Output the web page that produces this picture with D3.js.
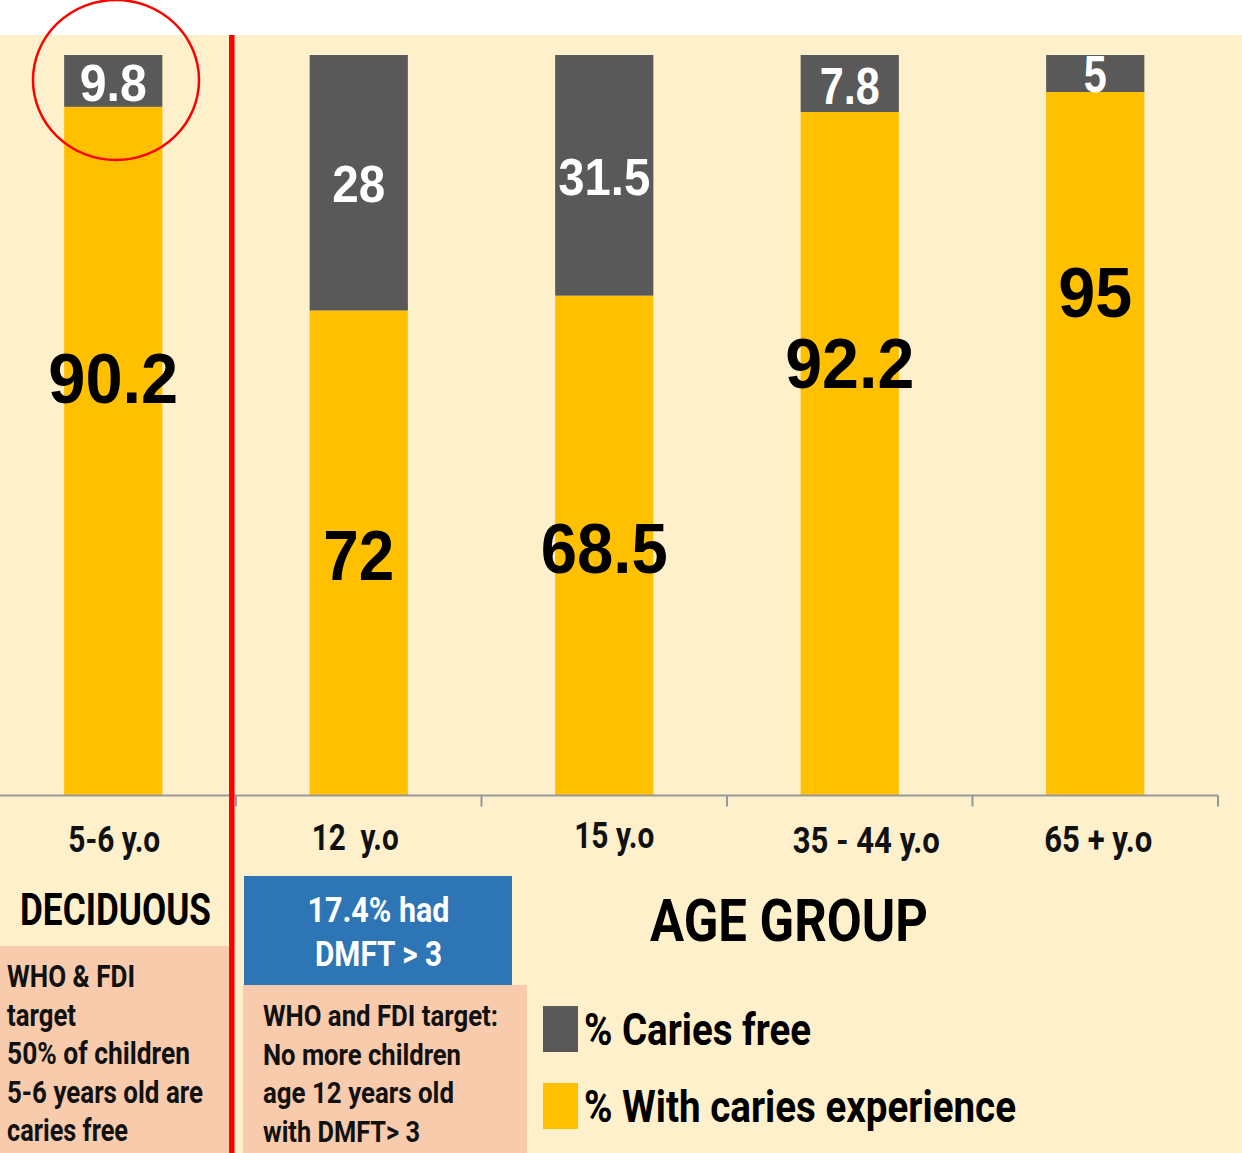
<!DOCTYPE html>
<html>
<head>
<meta charset="utf-8">
<style>
body { margin: 0; background: #fff; }
svg { display: block; }
.narrow { font-family: Roboto, "DejaVu Sans", sans-serif; font-weight: bold; }
.num { font-family: "Liberation Sans", Arial, sans-serif; font-weight: bold; }
</style>
</head>
<body>
<svg width="1242" height="1153"></svg>
<script src="https://d3js.org/d3.v7.min.js"></script>
<script>
// age groups
var groups = ["5-6 y.o", "12  y.o", "15 y.o", "35 - 44 y.o", "65 + y.o"];
// segment heights as drawn in the chart (percent of the 100% stacked bar)
var cariesFree = [7.0, 34.5, 32.5, 7.7, 5.0];
var withCaries = [93.0, 65.5, 67.5, 92.3, 95.0];
// values printed on the bars
var freeLabels = ["9.8", "28", "31.5", "7.8", "5"];
var cariesLabels = ["90.2", "72", "68.5", "92.2", "95"];
// label baselines, in percent units from the bottom
var freeLabelAt = [93.8, 80.2, 81.1, 93.4, 95.0];
var cariesLabelAt = [53.0, 29.1, 30.0, 55.0, 64.6];

var seriesNames = ["% Caries free", "% With caries experience"];
var colors = ["#595959", "#FFC000"];

// widths the texts take in the original (the condensed face is not installed)
var textW = {
  "5-6 y.o": 92, "12  y.o": 87, "15 y.o": 80, "35 - 44 y.o": 147, "65 + y.o": 108,
  "9.8": 67, "28": 53, "31.5": 92, "7.8": 60, "5": 23,
  "90.2": 130, "72": 71, "68.5": 127, "92.2": 129, "95": 74,
  "DECIDUOUS": 191, "WHO & FDI": 128, "target": 69, "50% of children": 183,
  "5-6 years old are": 196, "caries free": 121,
  "WHO and FDI target:": 235, "No more children": 198, "age 12 years old": 191, "with DMFT> 3": 157,
  "17.4% had": 142, "DMFT > 3": 127, "AGE GROUP": 278,
  "% Caries free": 227, "% With caries experience": 432
};
function fit(sel) {
  sel.attr("textLength", function(d) { return textW[this.textContent]; })
     .attr("lengthAdjust", "spacingAndGlyphs");
}

var svg = d3.select("svg"),
    W = +svg.attr("width"), H = +svg.attr("height");

svg.append("rect").attr("x", 0).attr("y", 35).attr("width", W).attr("height", H - 35).attr("fill", "#FFF0CC");

var x = d3.scaleBand().domain(groups).range([-9.5, 1218]).padding(0);
var y = d3.scaleLinear().domain([0, 100]).range([795.5, 55]);
var barW = x.bandwidth() * 0.4;
var cx = function(d) { return x(d) + x.bandwidth() / 2; };

var rows = groups.map(function(g, i) {
  return {group: g, free: cariesFree[i], caries: withCaries[i]};
});
var stack = d3.stack().keys(["caries", "free"])(rows);

svg.append("g").selectAll("g")
  .data(stack)
  .join("g")
    .attr("fill", function(d, i) { return i === 0 ? colors[1] : colors[0]; })
  .selectAll("rect")
  .data(function(d) { return d; })
  .join("rect")
    .attr("x", function(d) { return cx(d.data.group) - barW / 2; })
    .attr("width", barW)
    .attr("y", function(d) { return y(d[1]); })
    .attr("height", function(d) { return y(d[0]) - y(d[1]); });

// axis with ticks on the band edges
var axis = svg.append("g")
  .attr("transform", "translate(0," + y(0) + ")");
axis.append("path").attr("d", "M0,0H1218").attr("stroke", "#999").attr("stroke-width", 2).attr("fill", "none");
axis.selectAll("line")
  .data(groups.slice(1).map(function(g) { return x(g); }).concat([1218]))
  .join("line")
    .attr("x1", function(d) { return d; })
    .attr("x2", function(d) { return d; })
    .attr("y1", 0).attr("y2", 11)
    .attr("stroke", "#999").attr("stroke-width", 2);

// category labels
var catDy = [56.5, 54.5, 52.5, 57.5, 56.5];
var catDx = [1, -3.5, 10, 16.5, 3];
svg.append("g").selectAll("text")
  .data(groups)
  .join("text")
    .attr("class", "narrow")
    .attr("x", function(d, i) { return cx(d) + catDx[i]; })
    .attr("y", function(d, i) { return y(0) + catDy[i]; })
    .attr("text-anchor", "middle")
    .attr("font-size", 37)
    .attr("fill", "#111")
    .style("white-space", "pre")
    .text(function(d) { return d; })
    .call(fit);

// bar value labels
svg.append("g").selectAll("text")
  .data(groups)
  .join("text")
    .attr("class", "num")
    .attr("x", cx)
    .attr("y", function(d, i) { return y(freeLabelAt[i]); })
    .attr("text-anchor", "middle")
    .attr("font-size", 52)
    .attr("fill", "#fff")
    .text(function(d, i) { return freeLabels[i]; })
    .call(fit);

svg.append("g").selectAll("text")
  .data(groups)
  .join("text")
    .attr("class", "num")
    .attr("x", cx)
    .attr("y", function(d, i) { return y(cariesLabelAt[i]); })
    .attr("text-anchor", "middle")
    .attr("font-size", 71)
    .attr("fill", "#000")
    .text(function(d, i) { return cariesLabels[i]; })
    .call(fit);

// red ring around the first caries-free value
svg.append("ellipse")
  .attr("cx", 116).attr("cy", 80).attr("rx", 83).attr("ry", 80)
  .attr("fill", "none").attr("stroke", "#FF0000").attr("stroke-width", 2.5);

// annotation boxes
svg.append("rect").attr("x", 0).attr("y", 946).attr("width", 231).attr("height", 207).attr("fill", "#F8CBAD");
svg.append("rect").attr("x", 243).attr("y", 985).attr("width", 284).attr("height", 168).attr("fill", "#F8CBAD");
svg.append("rect").attr("x", 244).attr("y", 876).attr("width", 268).attr("height", 109).attr("fill", "#2E75B6");

// red divider
svg.append("line").attr("x1", 231.8).attr("x2", 231.8).attr("y1", 35).attr("y2", H)
  .attr("stroke", "#FF0000").attr("stroke-width", 5.5);

function lines(arr, x0, y0, dy, size, fill, anchor) {
  svg.append("g").selectAll("text")
    .data(arr)
    .join("text")
      .attr("class", "narrow")
      .attr("x", x0)
      .attr("y", function(d, i) { return y0 + i * dy; })
      .attr("font-size", size)
      .attr("fill", fill)
      .attr("text-anchor", anchor || "start")
      .text(function(d) { return d; })
      .call(fit);
}

lines(["DECIDUOUS"], 115.5, 925, 0, 45, "#000", "middle");
lines(["WHO & FDI", "target", "50% of children", "5-6 years old are", "caries free"], 7, 987, 38.5, 31, "#111");
lines(["WHO and FDI target:", "No more children", "age 12 years old", "with DMFT> 3"], 263, 1026, 38.7, 30, "#111");
lines(["17.4% had", "DMFT > 3"], 378.5, 922, 44, 35, "#fff", "middle");
lines(["AGE GROUP"], 789, 941, 0, 60, "#000", "middle");

// legend
var leg = svg.append("g").selectAll("g")
  .data(seriesNames)
  .join("g")
    .attr("transform", function(d, i) { return "translate(543," + (1006 + i * 77) + ")"; });
leg.append("rect").attr("width", 35).attr("height", 46)
  .attr("fill", function(d, i) { return colors[i]; });
leg.append("text")
  .attr("class", "narrow")
  .attr("x", 41).attr("y", 39)
  .attr("font-size", 45)
  .attr("fill", "#000")
  .text(function(d) { return d; })
  .call(fit);
</script>
</body>
</html>
